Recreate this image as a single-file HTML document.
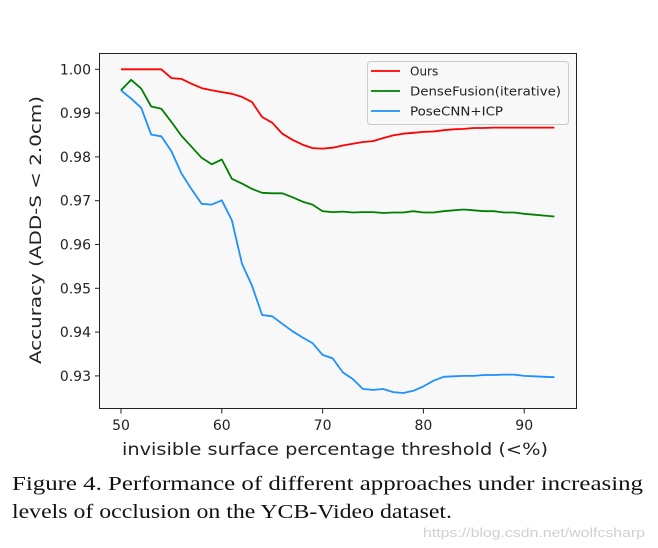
<!DOCTYPE html>
<html><head><meta charset="utf-8"><style>
html,body{margin:0;padding:0;background:#fff;}
svg{display:block;}
</style></head><body>
<svg id="chart" width="658" height="548" viewBox="0 0 658 548" xmlns="http://www.w3.org/2000/svg">
<rect x="99.5" y="53.5" width="477" height="355" fill="#f8f8f8" stroke="#222" stroke-width="1"/>
<g id="grid"></g>
<g id="series"></g>
<g id="axes" font-family="DejaVu Sans, Liberation Sans, sans-serif" font-size="14" fill="#222"></g>
<text x="0" y="0" transform="translate(41,230) rotate(-90)" text-anchor="middle" font-family="DejaVu Sans, Liberation Sans, sans-serif" font-size="16" fill="#222" textLength="268" lengthAdjust="spacingAndGlyphs">Accuracy (ADD-S &lt; 2.0cm)</text>
<text x="335" y="455" text-anchor="middle" font-family="DejaVu Sans, Liberation Sans, sans-serif" font-size="17" fill="#222" textLength="426" lengthAdjust="spacingAndGlyphs">invisible surface percentage threshold (&lt;%)</text>
<g>
<rect x="367.5" y="61.5" width="201" height="63" rx="3" fill="#f8f8f8" stroke="#ccc"/>
<line x1="371" y1="71" x2="400" y2="71" stroke="#ff0000" stroke-width="1.8"/>
<text x="410" y="75.5" font-family="DejaVu Sans, Liberation Sans, sans-serif" font-size="12" fill="#222">Ours</text>
<line x1="371" y1="91" x2="400" y2="91" stroke="#008000" stroke-width="1.8"/>
<text x="410" y="95.5" font-family="DejaVu Sans, Liberation Sans, sans-serif" font-size="12" fill="#222" textLength="151" lengthAdjust="spacingAndGlyphs">DenseFusion(iterative)</text>
<line x1="371" y1="111" x2="400" y2="111" stroke="#1e90ff" stroke-width="1.8"/>
<text x="410" y="115.5" font-family="DejaVu Sans, Liberation Sans, sans-serif" font-size="12" fill="#222" textLength="93" lengthAdjust="spacingAndGlyphs">PoseCNN+ICP</text>
</g>
<text x="12" y="490" font-family="Liberation Serif, serif" font-size="20" fill="#111" textLength="631" lengthAdjust="spacingAndGlyphs">Figure 4.   Performance of different approaches under increasing</text>
<text x="12" y="518" font-family="Liberation Serif, serif" font-size="20" fill="#111" textLength="440" lengthAdjust="spacingAndGlyphs">levels of occlusion on the YCB-Video dataset.</text>
<text x="645" y="537" text-anchor="end" font-family="Liberation Sans, sans-serif" font-size="13" fill="#d0d0d0" textLength="222" lengthAdjust="spacingAndGlyphs">https://blog.csdn.net/wolfcsharp</text>
</svg>
<script>
const xValues = [50,51,52,53,54,55,56,57,58,59,60,61,62,63,64,65,66,67,68,69,70,71,72,73,74,75,76,77,78,79,80,81,82,83,84,85,86,87,88,89,90,91,92,93];
const oursValues = [1.000,1.000,1.000,1.000,1.000,0.998,0.9978,0.9967,0.9957,0.9952,0.9948,0.9944,0.9937,0.9925,0.9891,0.9878,0.9853,0.9839,0.9828,0.9820,0.9819,0.9821,0.9826,0.9830,0.9834,0.9836,0.9843,0.9849,0.9853,0.9855,0.9857,0.9858,0.9861,0.9863,0.9864,0.9866,0.9866,0.9867,0.9867,0.9867,0.9867,0.9867,0.9867,0.9867];
const denseValues = [0.9952,0.9976,0.9956,0.9915,0.9910,0.9880,0.9848,0.9823,0.9798,0.9783,0.9794,0.9750,0.9739,0.9727,0.9718,0.9717,0.9717,0.9708,0.9698,0.9691,0.9676,0.9674,0.9675,0.9673,0.9674,0.9674,0.9672,0.9673,0.9673,0.9676,0.9673,0.9673,0.9676,0.9678,0.9680,0.9678,0.9676,0.9676,0.9673,0.9673,0.9670,0.9668,0.9666,0.9664];
const poseValues = [0.9952,0.9933,0.9912,0.9851,0.9847,0.9813,0.9762,0.9726,0.9693,0.9691,0.9701,0.9655,0.9556,0.9506,0.9439,0.9436,0.9419,0.9402,0.9388,0.9375,0.9348,0.9340,0.9308,0.9293,0.9270,0.9268,0.9270,0.9263,0.9261,0.9266,0.9276,0.9289,0.9298,0.9299,0.9300,0.9300,0.9302,0.9302,0.9303,0.9303,0.9300,0.9299,0.9298,0.9297];
const xTicks = [50,60,70,80,90];
const yTicks = [0.93,0.94,0.95,0.96,0.97,0.98,0.99,1.00];
const yTickLabels = ["0.93","0.94","0.95","0.96","0.97","0.98","0.99","1.00"];

function xs(v){ return 121 + (v-50)*10.08; }
function ys(v){ return 69.3 + (1.0 - v)*4380; }
const NS = "http://www.w3.org/2000/svg";
const axes = document.getElementById('axes');
const series = document.getElementById('series');

xTicks.forEach(t=>{
  const l = document.createElementNS(NS,'line');
  l.setAttribute('x1',xs(t)); l.setAttribute('x2',xs(t));
  l.setAttribute('y1',409); l.setAttribute('y2',413.5);
  l.setAttribute('stroke','#222');
  
  
  axes.appendChild(l);
  const tx = document.createElementNS(NS,'text');
  tx.setAttribute('x',xs(t)); tx.setAttribute('y',430);
  tx.setAttribute('text-anchor','middle');
  tx.textContent = String(t);
  
  
  axes.appendChild(tx);
});
yTicks.forEach((t,i)=>{
  const l = document.createElementNS(NS,'line');
  l.setAttribute('x1',95); l.setAttribute('x2',99.5);
  l.setAttribute('y1',ys(t)); l.setAttribute('y2',ys(t));
  l.setAttribute('stroke','#222');
  
  
  axes.appendChild(l);
  const tx = document.createElementNS(NS,'text');
  tx.setAttribute('x',91); tx.setAttribute('y',ys(t)+5);
  tx.setAttribute('text-anchor','end');
  tx.textContent = yTickLabels[i];
  
  
  axes.appendChild(tx);
});
function drawLine(vals,color,name){
  const p = document.createElementNS(NS,'polyline');
  p.setAttribute('points', vals.map((v,i)=>xs(xValues[i]).toFixed(1)+','+ys(v).toFixed(1)).join(' '));
  p.setAttribute('fill','none');
  p.setAttribute('stroke',color);
  p.setAttribute('stroke-width','1.8');
  p.setAttribute('stroke-linejoin','round');
  
  
  series.appendChild(p);
}
drawLine(poseValues,'#1e90ff','posecnn-line');
drawLine(denseValues,'#008000','densefusion-line');
drawLine(oursValues,'#ff0000','ours-line');
</script>
</body></html>
